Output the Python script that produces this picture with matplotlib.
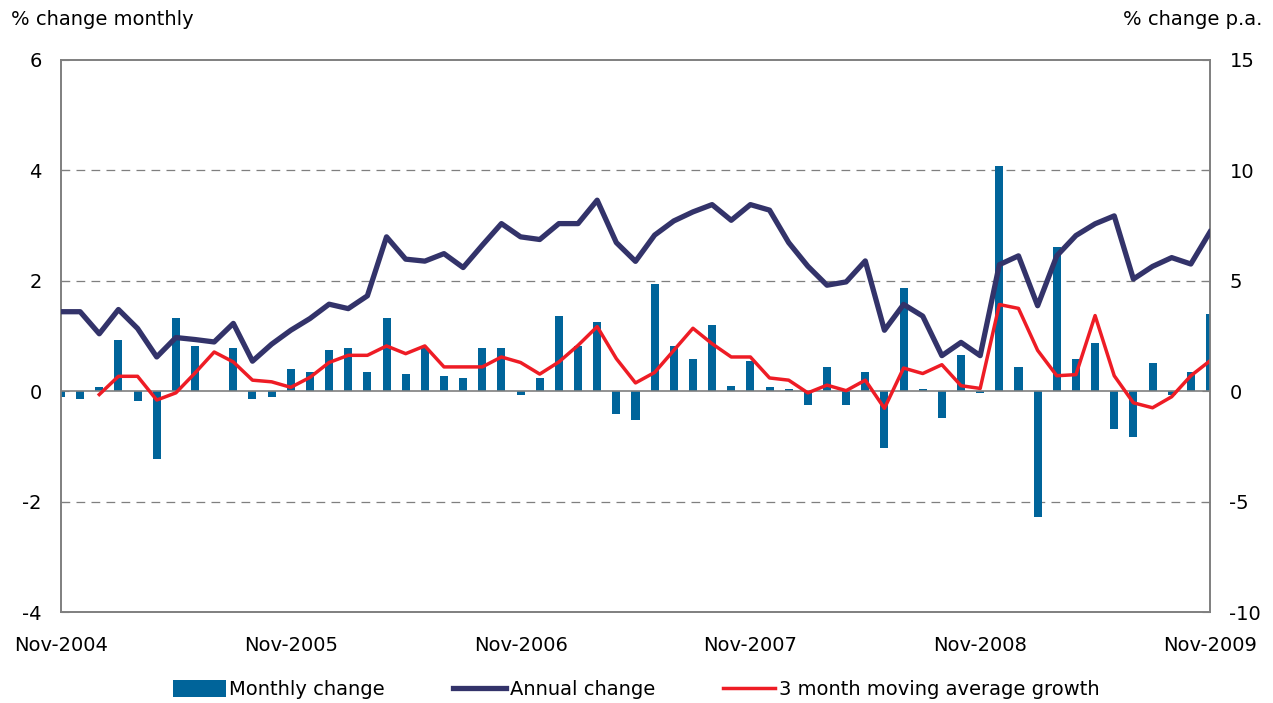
import matplotlib
matplotlib.use("Agg")
import matplotlib.pyplot as plt
import numpy as np

plt.rcParams['font.family'] = ['DejaVu Sans']
plt.rcParams['axes.unicode_minus'] = False

# Dados: Nov-2004 .. Nov-2009 (61 meses)
meses_rotulos = ["Nov-2004", "Nov-2005", "Nov-2006", "Nov-2007", "Nov-2008", "Nov-2009"]

variacao_mensal = [
    -0.10, -0.14, 0.07, 0.92, -0.18, -1.23, 1.33, 0.82, 0.00, 0.79,
    -0.14, -0.10, 0.40, 0.34, 0.74, 0.78, 0.34, 1.33, 0.31, 0.78,
    0.27, 0.24, 0.78, 0.78, -0.07, 0.24, 1.36, 0.82, 1.25, -0.41,
    -0.52, 1.94, 0.82, 0.58, 1.20, 0.09, 0.54, 0.07, 0.04, -0.25,
    0.43, -0.25, 0.34, -1.03, 1.87, 0.04, -0.48, 0.66, -0.03, 4.08,
    0.44, -2.27, 2.62, 0.58, 0.88, -0.68, -0.83, 0.51, -0.06, 0.34,
    1.39,
]

variacao_anual = [
    3.60, 3.60, 2.60, 3.70, 2.84, 1.55, 2.43, 2.34, 2.23, 3.07,
    1.36, 2.13, 2.76, 3.29, 3.94, 3.74, 4.32, 6.99, 5.98, 5.89,
    6.23, 5.60, 6.61, 7.59, 6.99, 6.87, 7.59, 7.59, 8.65, 6.73,
    5.88, 7.07, 7.71, 8.12, 8.45, 7.74, 8.45, 8.20, 6.73, 5.66,
    4.80, 4.95, 5.90, 2.76, 3.93, 3.40, 1.61, 2.21, 1.61, 5.73,
    6.13, 3.87, 6.13, 7.05, 7.58, 7.94, 5.08, 5.65, 6.05, 5.76,
    7.21,
]

media_movel_3m = [
    None, None, -0.06, 0.27, 0.27, -0.16, -0.03, 0.33, 0.71, 0.53,
    0.20, 0.17, 0.07, 0.25, 0.52, 0.65, 0.65, 0.82, 0.68, 0.82,
    0.44, 0.44, 0.44, 0.62, 0.52, 0.31, 0.53, 0.83, 1.17, 0.59,
    0.15, 0.34, 0.74, 1.14, 0.86, 0.62, 0.62, 0.24, 0.20, -0.03,
    0.11, 0.01, 0.20, -0.31, 0.42, 0.32, 0.48, 0.10, 0.05, 1.57,
    1.50, 0.74, 0.28, 0.30, 1.37, 0.28, -0.21, -0.30, -0.10, 0.28,
    0.55,
]

AZUL = "#00649a"
MARINHO = "#33336a"
VERMELHO = "#ee1c25"
CINZA = "#7f7f7f"

x = np.arange(len(variacao_mensal))
mm = np.array([np.nan if v is None else v for v in media_movel_3m])

fig = plt.figure(figsize=(12.73, 7.03), dpi=100)
ax = fig.add_axes([0.0479, 0.1294, 0.9026, 0.7853])
ax2 = ax.twinx()

# Barras e media movel no eixo esquerdo
barras = ax.bar(x, variacao_mensal, width=0.42, color=AZUL, zorder=3)
linha_mm, = ax.plot(x, mm, color=VERMELHO, lw=2.5, zorder=5)
ax.axhline(0, color=CINZA, lw=1.2, zorder=4)

# Variacao anual no eixo direito
linha_anual, = ax2.plot(x, variacao_anual, color=MARINHO, lw=3.8, zorder=4)

ax.set_xlim(0, 60)
ax.set_ylim(-4, 6)
ax2.set_ylim(-10, 15)
ax.set_yticks([-4, -2, 0, 2, 4, 6])
ax2.set_yticks([-10, -5, 0, 5, 10, 15])
ax.set_xticks(np.arange(0, 61, 12))
ax.set_xticklabels(meses_rotulos)

for v in [-2, 2, 4]:
    ax.axhline(v, color=CINZA, lw=0.9, ls=(0, (7, 5)), zorder=1)

for a in (ax, ax2):
    for s in a.spines.values():
        s.set_color(CINZA)
        s.set_linewidth(1.2)
    a.tick_params(axis='y', direction='in', length=6, color=CINZA, labelsize=14, pad=14)
    a.tick_params(axis='x', length=0, labelsize=14, pad=17)

ax2.set_zorder(ax.get_zorder() + 1)
ax.patch.set_visible(False)

fig.text(0.009, 0.972, "% change monthly", fontsize=14, ha='left', va='center')
fig.text(0.992, 0.972, "% change p.a.", fontsize=14, ha='right', va='center')

fig.legend([barras, linha_anual, linha_mm],
           ["Monthly change", "Annual change", "3 month moving average growth"],
           loc='center', bbox_to_anchor=(0.5, 0.019), ncol=3, frameon=False,
           fontsize=14, handlelength=2.7, handleheight=1.0, handletextpad=0.2,
           columnspacing=3.5)

fig.savefig("out.png", dpi=100)
